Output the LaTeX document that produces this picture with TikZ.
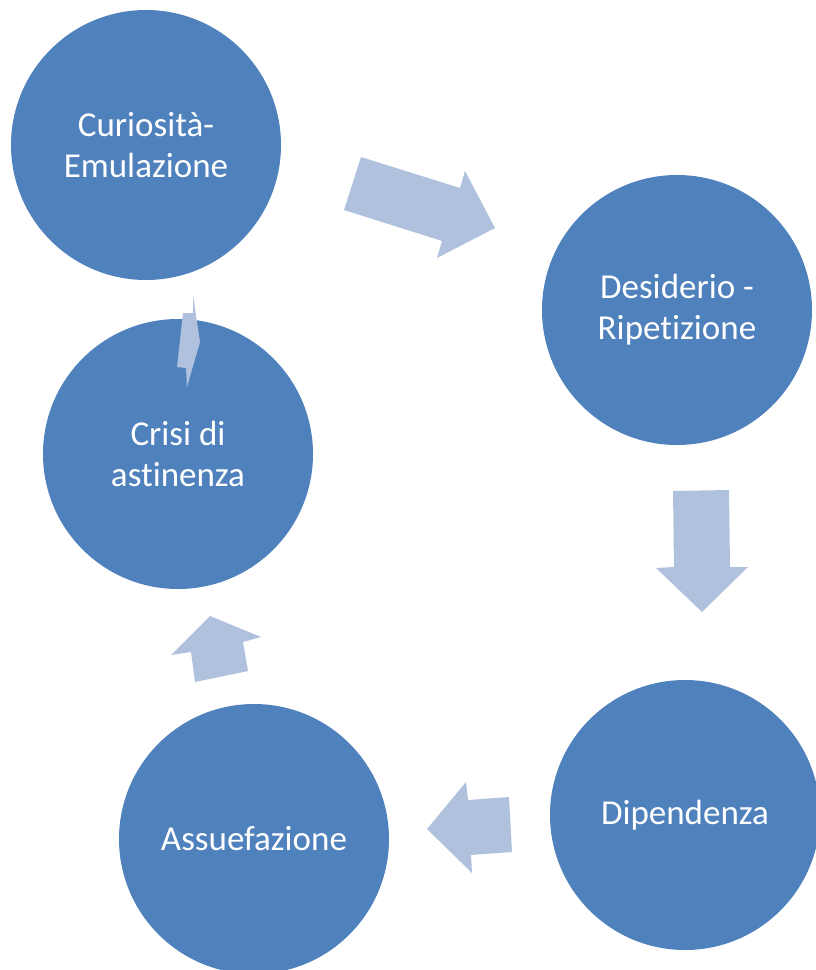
\documentclass[tikz,border=0pt]{standalone}
\usepackage{fontspec}
\setmainfont{Carlito}[Ligatures=NoCommon]
\usepackage{xcolor}
\usepackage{tikz}
\usetikzlibrary{positioning}
\definecolor{stepblue}{RGB}{79,129,189}
\definecolor{arrowblue}{RGB}{176,193,222}

\begin{document}
\begin{tikzpicture}[x=1pt, y=-1pt,
    phase/.style={circle, fill=stepblue, minimum size=270pt, inner sep=0pt,
                  text=white, align=center, font=\fontsize{35}{41}\selectfont},
    bigarrow/.style={fill=arrowblue}]
                \useasboundingbox (0,0) rectangle (816,970);
                % Cycle steps
                \node[phase] (curiosita) at (146,145) {Curiosità-\\Emulazione};
                \node[phase] (desiderio) at (677,310) {Desiderio -\\Ripetizione};
                \node[phase] (dipendenza) at (685,815) {Dipendenza};
                \node[phase] (assuefazione) at (254,839) {Assuefazione};
                \node[phase] (crisi) at (178,454) {Crisi di\\astinenza};
                
                % Block arrows between the steps
                \fill[bigarrow] (361,157) -- (460,188) -- (465,171) -- (495,228)
                    -- (437,258) -- (442,241) -- (344,210) -- cycle;
                \fill[bigarrow] (673,491) -- (729,490) -- (730,567) -- (748,567)
                    -- (702,612) -- (656,568) -- (674,567) -- cycle;
                \fill[bigarrow] (427,829) -- (466,782) -- (468,800) -- (509,797)
                    -- (512,852) -- (471,855) -- (472,873) -- cycle;
                \fill[bigarrow] (210,616) -- (261,637) -- (243,642) -- (248,671)
                    -- (195,682) -- (191,652) -- (171,655) -- cycle;
                \fill[bigarrow] (193,295) -- (193,313) -- (183,313) -- (177,367)
                    -- (186,368) -- (187,387) -- (200,342) -- cycle;
            \end{tikzpicture}
\end{document}
